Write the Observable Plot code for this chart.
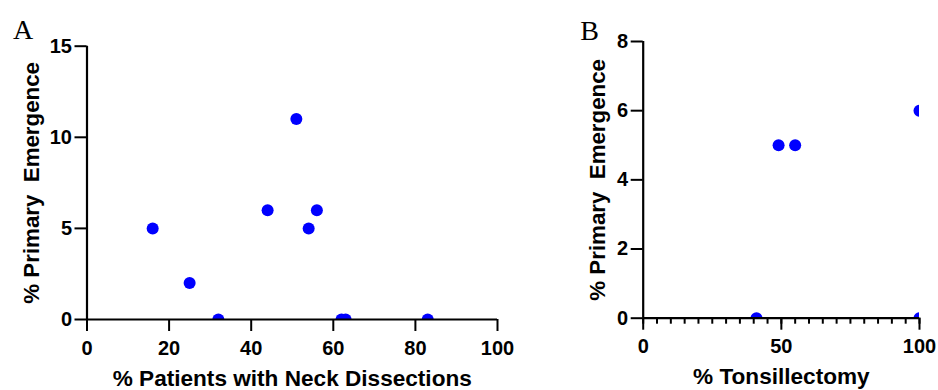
<!DOCTYPE html>
<html><head><meta charset="utf-8">
<script src="https://cdn.jsdelivr.net/npm/d3@7"></script>
<script src="https://cdn.jsdelivr.net/npm/@observablehq/plot@0.6"></script>
<style>
body{margin:0;background:#fff;}
#wrap{position:relative;width:938px;height:390px;overflow:hidden;background:#fff;}
#wrap svg{position:absolute;top:0;overflow:visible;}
</style></head><body><div id="wrap"></div>
<script>
// Panel A data
const neckDissectionPct = [16, 25, 32, 44, 51, 54, 56, 62, 63, 83];
const emergenceA = [5, 2, 0, 6, 11, 5, 6, 0, 0, 0];
// Panel B data
const tonsillectomyPct = [41, 49, 55, 100, 100];
const emergenceB = [0, 5, 5, 6, 0];
// Ticks
const xTicksA = [0, 20, 40, 60, 80, 100];
const yTicksA = [0, 5, 10, 15];
const xTicksB = [0, 50, 100];
const xMinorTicksB = [0, 5, 10, 15, 20, 25, 30, 35, 40, 45, 50, 55, 60, 65, 70, 75, 80, 85, 90, 95, 100];
const yTicksB = [0, 2, 4, 6, 8];
// Labels
const panelLabels = ["A", "B"];
const xTitleA = "% Patients with Neck Dissections";
const xTitleB = "% Tonsillectomy";
const yTitle = "% Primary\u00a0 Emergence";

const dataA = neckDissectionPct.map((x, i) => ({x, y: emergenceA[i]}));
const dataB = tonsillectomyPct.map((x, i) => ({x, y: emergenceB[i]}));

const FONT = "'Liberation Sans', Arial, sans-serif";
const BLUE = "#0000ff";

function panel({data, width, ml, mr, mt, mb, yDomain, xTicks, yTicks, minor, xTitle, letter, letterDx, letterDy, yTitleDx}) {
  const marks = [
    Plot.dot(data, {x: "x", y: "y", r: 6, fill: BLUE, clip: true}),
    Plot.ruleY([0], {strokeWidth: 2.2}),
    Plot.ruleX([0], {strokeWidth: 2.2}),
  ];
  if (minor) {
    marks.push(Plot.axisX({ticks: minor, tickSize: 6, strokeWidth: 2, tickFormat: () => "", label: null}));
  }
  marks.push(
    Plot.axisX({ticks: xTicks, tickSize: 12, tickPadding: 9, strokeWidth: 2, fontSize: 20, label: null}),
    Plot.axisY({ticks: yTicks, tickSize: 12, tickPadding: 3, strokeWidth: 2, fontSize: 20, label: null}),
    Plot.text([xTitle], {frameAnchor: "bottom", textAnchor: "middle", lineAnchor: "middle", dy: 59, fontSize: 22.6, fontWeight: "bold"}),
    Plot.text([yTitle], {frameAnchor: "left", rotate: -90, textAnchor: "middle", lineAnchor: "middle", dx: yTitleDx, fontSize: 22.3, fontWeight: "bold"}),
    Plot.text([letter], {frameAnchor: "top-left", textAnchor: "middle", lineAnchor: "middle", dx: letterDx, dy: letterDy, fontSize: 28, fontWeight: "normal", fontFamily: "'Liberation Serif', 'Times New Roman', serif"})
  );
  return Plot.plot({
    width, height: 390,
    marginLeft: ml, marginRight: mr, marginTop: mt, marginBottom: mb,
    x: {domain: [0, 100], axis: null},
    y: {domain: yDomain, axis: null},
    style: {fontFamily: FONT, fontWeight: "bold", fontSize: "20px", color: "#000", background: "transparent", overflow: "visible"},
    marks
  });
}

const wrap = document.getElementById("wrap");
const a = panel({data: dataA, width: 540, ml: 86.5, mr: 43, mt: 45.7, mb: 71, yDomain: [0, 15],
  xTicks: xTicksA, yTicks: yTicksA, minor: null, xTitle: xTitleA, letter: panelLabels[0],
  letterDx: -64, letterDy: -16.2, yTitleDx: -55.5});
a.style.left = "0px";
wrap.appendChild(a);
const b = panel({data: dataB, width: 378, ml: 82.7, mr: 19, mt: 41, mb: 72.3, yDomain: [0, 8],
  xTicks: xTicksB, yTicks: yTicksB, minor: xMinorTicksB, xTitle: xTitleB, letter: panelLabels[1],
  letterDx: -53.7, letterDy: -10.5, yTitleDx: -45});
b.style.left = "560px";
wrap.appendChild(b);
</script></body></html>
